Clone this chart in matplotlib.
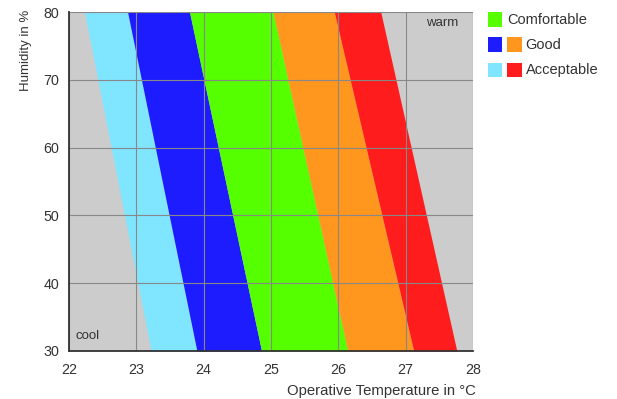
import matplotlib
matplotlib.use("Agg")
import matplotlib.pyplot as plt
from matplotlib.patches import Rectangle

plt.rcParams['font.family'] = ['Liberation Sans', 'DejaVu Sans']

# humidity range (%) and band boundaries (operative temperature in °C) at 80 % and 30 %
humidity = [80, 30]
bounds_top = [22.23, 22.87, 23.79, 25.03, 25.94, 26.63]
bounds_bottom = [23.22, 23.90, 24.86, 26.14, 27.12, 27.76]
band_colors = ['#80e5ff', '#1c1cff', '#55ff00', '#ff961e', '#ff1c1c']

xticks = [22, 23, 24, 25, 26, 27, 28]
yticks = [30, 40, 50, 60, 70, 80]

legend_rows = [
    ("Comfortable", ['#55ff00']),
    ("Good", ['#1c1cff', '#ff961e']),
    ("Acceptable", ['#80e5ff', '#ff1c1c']),
]

W, H = 617, 399
fig = plt.figure(figsize=(W / 100, H / 100), dpi=100)
ax = fig.add_axes([69 / W, 1 - 351 / H, 404 / W, 339 / H])
ax.set_facecolor('#cccccc')

for i, c in enumerate(band_colors):
    ax.fill_betweenx(humidity,
                     [bounds_top[i], bounds_bottom[i]],
                     [bounds_top[i + 1], bounds_bottom[i + 1]],
                     color=c, lw=0, zorder=1)

ax.set_xlim(22, 28)
ax.set_ylim(30, 80)
ax.set_xticks(xticks)
ax.set_yticks(yticks)
ax.grid(True, color='#888888', lw=0.8, zorder=2)
ax.set_axisbelow(False)
ax.tick_params(length=0, labelsize=10.3, colors='#333333')
ax.tick_params(axis='y', pad=7)
ax.tick_params(axis='x', pad=9)

for s in ['top', 'right']:
    ax.spines[s].set_visible(False)
for s in ['left', 'bottom']:
    ax.spines[s].set_color('#333333')
    ax.spines[s].set_linewidth(1.3)
    ax.spines[s].set_zorder(3)

fig.text(75 / W, 1 - 336 / H, "cool", fontsize=9.5, color='#333333', ha='left', va='center')
fig.text(458 / W, 1 - 23 / H, "warm", fontsize=9.5, color='#333333', ha='right', va='center')

fig.text(26 / W, 1 - 10 / H, "Humidity in %", rotation=90, fontsize=9.5,
         color='#333333', ha='center', va='top')
fig.text(476 / W, 1 - 391 / H, "Operative Temperature in °C", fontsize=10.7,
         color='#333333', ha='right', va='center')

# legend drawn by hand
for row, (label, cols) in enumerate(legend_rows):
    yc = 19.5 + row * 25.2
    for k, c in enumerate(cols):
        x0 = 487.5 + k * 19.8
        fig.add_artist(Rectangle((x0 / W, 1 - (yc + 7.3) / H), 14.6 / W, 14.6 / H,
                                 transform=fig.transFigure, color=c, lw=0))
    xt = 507.5 if len(cols) == 1 else 525.7
    fig.text(xt / W, 1 - yc / H, label, fontsize=10.5, color='#333333',
             ha='left', va='center')

fig.savefig("out.png", dpi=100)
